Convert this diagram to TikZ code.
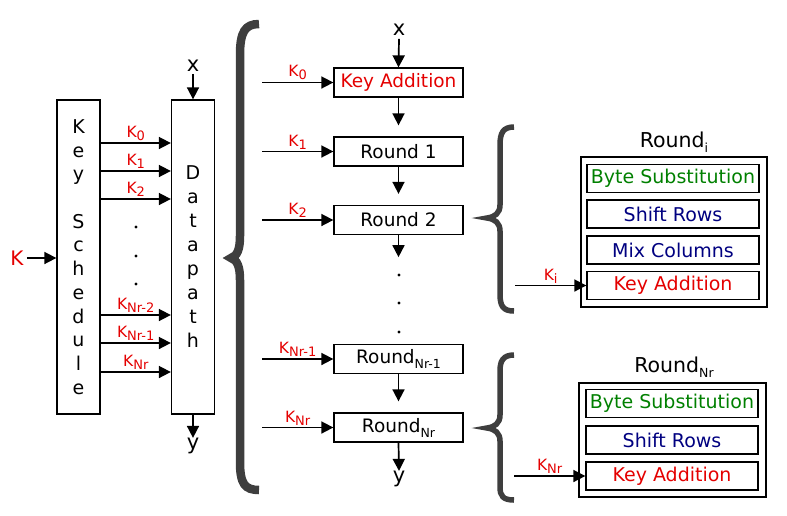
\documentclass[tikz,border=0pt]{standalone}
\usepackage{fontspec}
\setmainfont{DejaVu Sans}
\usetikzlibrary{arrows.meta}
\definecolor{kred}{RGB}{228,0,0}
\definecolor{kgreen}{RGB}{0,128,0}
\definecolor{knavy}{RGB}{0,0,128}
\definecolor{brc}{RGB}{62,62,62}
\newcommand\kk[1]{K\raisebox{-3pt}{\fontsize{13}{13}\selectfont #1}}
\newcommand\rsub[1]{\raisebox{-5pt}{\fontsize{12.5}{12.5}\selectfont #1}}
\begin{document}
\begin{tikzpicture}[x=1pt,y=-1pt,
  box/.style={draw,line width=1.3pt,inner sep=0pt,minimum width=129pt,minimum height=29pt,font=\fontsize{18.5}{18.5}\selectfont},
  ibox/.style={draw,line width=1.3pt,inner sep=0pt,minimum width=172pt,minimum height=28pt,font=\fontsize{19}{19}\selectfont},
  obox/.style={draw,line width=1.3pt,inner sep=0pt},
  tall/.style={draw,line width=1.3pt,inner sep=0pt,minimum width=43pt,minimum height=314pt,align=center},
  arr/.style={line width=1.7pt,-{Triangle[length=12pt,width=12pt]}},
  klab/.style={text=kred,font=\fontsize{15.5}{15.5}\selectfont,inner sep=1.5pt,anchor=south},
  io/.style={font=\fontsize{21}{21}\selectfont,inner sep=0pt},
  brace/.style={draw=brc,line cap=butt},
  dot/.style={fill=black,circle,inner sep=0pt,minimum size=3.4pt}
]
\useasboundingbox (0,0) rectangle (787,515);

% ---------- left part ----------
\node[tall,font=\fontsize{19}{23.7}\selectfont] (ks) at (78.5,257) {K\\e\\y\\\mbox{}\\S\\c\\h\\e\\d\\u\\l\\e};
\node[tall,font=\fontsize{19}{24}\selectfont] (dp) at (193,257) {D\\a\\t\\a\\p\\a\\t\\h};
\node[text=kred,font=\fontsize{20}{20}\selectfont,inner sep=0pt] (bigk) at (17,258) {K};
\draw[arr] (bigk.east) ++(3,0) coordinate (bk) (bk) -- (ks.west |- bigk);

\node[io] (xl) at (193,66) {x};
\node[io] (yl) at (193,446) {y};
\draw[arr] (xl.south) ++(0,2) coordinate (xls) (xls) -- (dp.north);
\draw[arr] (dp.south) -- (yl.north);

\foreach \yy/\lab/\nm in {143/0/a,171/1/b,199/2/c,315/Nr-2/d,343/Nr-1/e,372/Nr/f}{
  \coordinate (l\nm) at (0,\yy);
  \draw[arr] (ks.east |- l\nm) -- node[klab]{\kk{\lab}} (dp.west |- l\nm);
}
\node[dot] (ld1) at (136,227) {};
\node[dot] (ld2) at (136,256) {};
\node[dot] (ld3) at (136,284) {};

% ---------- big brace ----------
\draw[brace,line width=8.5pt] (259,24) .. controls (245,24) and (240,32) .. (240,55) -- (240,236)
  .. controls (240,250) and (237,256) .. (231,258) .. controls (237,260) and (240,266) .. (240,280)
  -- (240,462) .. controls (240,484) and (245,490) .. (259,490);

% ---------- middle column ----------
\node[io] (xm) at (399,30) {x};
\node[box,text=kred] (ka) at (398.5,82.5) {Key Addition};
\node[box] (r1) at (398.5,151.5) {Round 1};
\node[box] (r2) at (398.5,220) {Round 2};
\node[box] (rn1) at (398.5,359) {Round\rsub{Nr-1}};
\node[box] (rn) at (398.5,427.5) {Round\rsub{Nr}};
\node[io] (ym) at (399,479) {y};

\draw[arr] (xm.south) ++(0,3) coordinate (xms) (xms) -- (ka.north);
\draw[arr] (ka.south) -- ([yshift=11pt]r1.north);
\draw[arr] (r1.south) -- ([yshift=11pt]r2.north);
\draw[arr] (r2.south) ++(0,0) coordinate (r2s) (r2s) -- ++(0,22) coordinate (r2e);
\draw[arr] (rn1.south) -- ([yshift=11pt]rn.north);
\draw[arr] (rn.south) -- (ym.north);
\node[dot] (md1) at (399,275) {};
\node[dot] (md2) at (399,303) {};
\node[dot] (md3) at (399,332) {};

\foreach \nd/\lab in {ka/0,r1/1,r2/2,rn1/Nr-1,rn/Nr}{
  \coordinate (s\nd) at (262,0);
  \draw[arr] (s\nd |- \nd.west) -- node[klab]{\kk{\lab}} (\nd.west);
}

% ---------- right: Round_i ----------
\draw[brace,line width=5.5pt] (514,127) .. controls (503,127) and (500,133) .. (500,145) -- (500,205)
  .. controls (500,213) and (495,217) .. (487,218) .. controls (495,219) and (500,223) .. (500,231)
  -- (500,294) .. controls (500,306) and (503,311) .. (514,311);
\node[font=\fontsize{20.5}{20.5}\selectfont,inner sep=0pt] (ti) at (674,142) {Round\rsub{i}};
\node[obox,minimum width=186pt,minimum height=150pt] (oi) at (674,232) {};
\node[ibox,text=kgreen] (bs1) at (673,178.5) {Byte Substitution};
\node[ibox,text=knavy] (sr1) at (673,214) {Shift Rows};
\node[ibox,text=knavy] (mc1) at (673,250) {Mix Columns};
\node[ibox,text=kred] (ka1) at (673,285.5) {Key Addition};
\coordinate (ski) at (515,0);
\draw[arr] (ski |- ka1.west) -- node[klab]{\kk{i}} (ka1.west);

% ---------- right: Round_Nr ----------
\draw[brace,line width=5.5pt] (514,355) .. controls (503,355) and (500,361) .. (500,371) -- (500,415)
  .. controls (500,423) and (495,427) .. (487,428) .. controls (495,429) and (500,433) .. (500,441)
  -- (500,487) .. controls (500,496) and (503,500) .. (514,500);
\node[font=\fontsize{20.5}{20.5}\selectfont,inner sep=0pt] (tn) at (674,367) {Round\rsub{Nr}};
\node[obox,minimum width=187pt,minimum height=114pt] (on) at (672.5,440) {};
\node[ibox,text=kgreen] (bs2) at (672,403.5) {Byte Substitution};
\node[ibox,text=knavy] (sr2) at (672,440) {Shift Rows};
\node[ibox,text=kred] (ka2) at (672,476) {Key Addition};
\coordinate (skn) at (514,0);
\draw[arr] (skn |- ka2.west) -- node[klab]{\kk{Nr}} (ka2.west);
\end{tikzpicture}
\end{document}
